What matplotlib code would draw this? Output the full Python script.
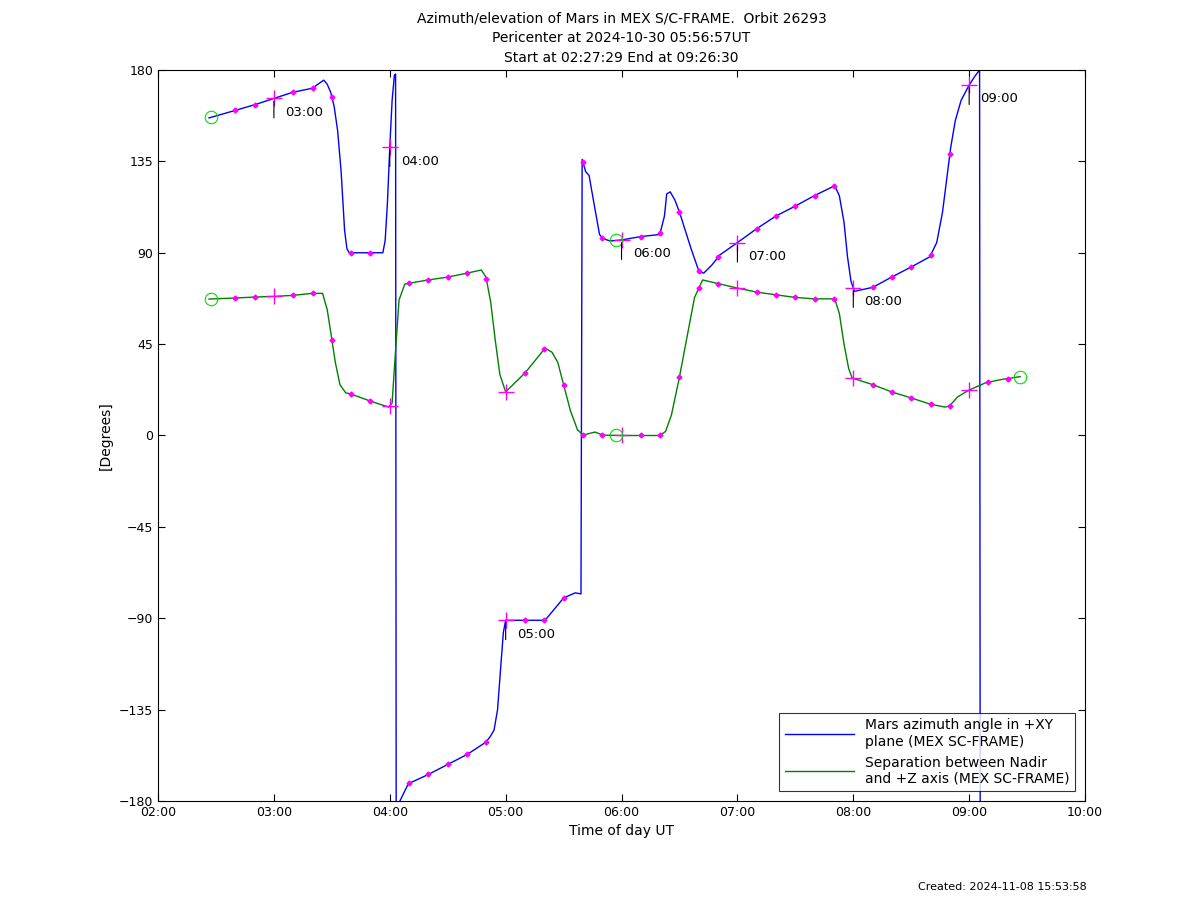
import numpy as np
import matplotlib.pyplot as plt

# azimuth curve (hours, degrees)
az_t = [2.44, 2.66, 2.84, 3.0, 3.16, 3.33, 3.43, 3.46, 3.49, 3.52, 3.55, 3.58, 3.61, 3.63, 3.65, 3.83,
        3.94, 3.96, 3.98, 4.0, 4.02, 4.04, 4.05,
        4.055, 4.07, 4.16, 4.33, 4.5, 4.67, 4.83, 4.87, 4.9, 4.93, 4.96, 4.98, 5.0, 5.17, 5.34, 5.5,
        5.6, 5.65, 5.66, 5.69, 5.72, 5.76, 5.81, 5.84, 5.9, 6.0, 6.17, 6.33, 6.37, 6.39, 6.42, 6.46,
        6.5, 6.6, 6.67, 6.71, 6.78, 6.85, 7.0, 7.17, 7.33, 7.5, 7.66, 7.84, 7.88, 7.92, 7.95,
        7.98, 8.01, 8.17, 8.33, 8.5, 8.66, 8.72, 8.77, 8.81, 8.84, 8.88, 8.93, 9.0, 9.05, 9.09,
        9.095, 9.2]
az_v = [156.4, 160, 163, 166, 169, 171, 175, 173, 169, 162, 150, 130, 101, 92, 90, 90,
        90, 96, 115, 142, 165, 177.5, 178,
        -180, -182, -171.5, -167, -162, -157, -151, -148, -145, -135, -112, -97, -91, -91, -91, -80,
        -77.5, -78, 136, 130, 128, 115, 99, 97, 95.8, 96.3, 98, 99, 108, 119, 120, 116,
        110, 92, 80.5, 80, 84, 89, 95, 102, 108, 113, 118, 123, 118, 105, 88,
        76, 71, 73, 78, 83, 88, 95, 110, 128, 141.6, 155, 165, 172.6, 177, 180,
        -182, -182]

# separation curve
sep_t = [2.44, 2.66, 2.84, 3.0, 3.16, 3.33, 3.42, 3.46, 3.49, 3.53, 3.57, 3.62, 3.66, 3.83, 3.99, 4.02,
         4.05, 4.08, 4.13, 4.33, 4.5, 4.67, 4.79, 4.83, 4.87, 4.91, 4.95, 5.0, 5.17, 5.34, 5.4, 5.45,
         5.5, 5.56, 5.62, 5.67, 5.77, 5.84, 6.0, 6.17, 6.33, 6.38, 6.43, 6.5, 6.57, 6.63, 6.7, 6.85,
         7.0, 7.17, 7.33, 7.5, 7.66, 7.84, 7.88, 7.92, 7.96, 7.99, 8.17, 8.33, 8.5, 8.66, 8.79,
         8.83, 8.9, 9.0, 9.14, 9.27, 9.44]
sep_v = [67.2, 67.7, 68.2, 68.5, 69, 70, 70, 62, 51, 36, 25, 21, 20.5, 17, 14, 16,
         42, 66.8, 74.6, 76.6, 78, 80, 81.5, 78, 66, 47, 30, 21.5, 31, 43, 41, 36,
         25, 12, 2.8, 0.2, 1.7, 0.2, 0, 0, 0, 2, 10, 28.8, 50, 68, 76.6, 74.6,
         72.6, 70.6, 69.3, 68, 67.3, 67.3, 60, 45, 33, 28.3, 25, 21.5, 18.5, 15.5, 14,
         14.5, 19, 22.4, 25.9, 27.5, 29]

hours = [3, 4, 5, 6, 7, 8, 9]
hour_labels = ['03:00', '04:00', '05:00', '06:00', '07:00', '08:00', '09:00']
t_start, t_end, t_peri = 2.458, 9.442, 5.949

fig = plt.figure(figsize=(12, 9.01), dpi=100)
ax = fig.add_axes([0.1317, 0.111, 0.7725, 0.8113])
ax.plot(az_t, az_v, color='blue', lw=1, label='Mars azimuth angle in +XY\nplane (MEX SC-FRAME)')
ax.plot(sep_t, sep_v, color='green', lw=1, label='Separation between Nadir\nand +Z axis (MEX SC-FRAME)')

# 10 minute markers
ten = np.arange(2 + 40 / 60, 9.34, 1 / 6)
ten = ten[np.abs(ten - np.round(ten)) > 0.01]
def az_at(t):
    return np.interp(t, az_t, az_v)
for t in ten:
    if not (abs(t - 4.05) < 0.05 or t > 9.1):
        ax.plot(t, az_at(t), 'D', color='magenta', ms=2.5)
    ax.plot(t, np.interp(t, sep_t, sep_v), 'D', color='magenta', ms=2.5)

# hour markers and labels
for h, lab in zip(hours, hour_labels):
    y = az_at(h)
    ax.plot(h, y, '+', color='magenta', ms=12, mew=1)
    ax.plot(h, np.interp(h, sep_t, sep_v), '+', color='magenta', ms=12, mew=1)
    ax.annotate('', xy=(h, y), xytext=(0, -16), textcoords='offset points',
                arrowprops=dict(arrowstyle='-', color='black', lw=0.8))
    ax.annotate(lab, xy=(h, y), xytext=(8, -10), textcoords='offset points',
                fontsize=9.5, va='center')

for t in (t_start, t_end, t_peri):
    for tt, vv in ((az_t, az_v), (sep_t, sep_v)):
        if t == t_end and tt is az_t:
            continue
        ax.plot(t, np.interp(t, tt, vv), 'o', mfc='none', mec='#00dd00', ms=9, mew=0.8)

ax.set_xlim(2, 10)
ax.set_ylim(-180, 180)
ax.set_xticks(range(2, 11))
ax.set_xticklabels(['%02d:00' % h for h in range(2, 11)])
ax.set_yticks(range(-180, 181, 45))
ax.tick_params(direction='in', top=True, right=True, labelsize=9, length=5)
ax.set_xlabel('Time of day UT', fontsize=10)
ax.set_ylabel('[Degrees]', fontsize=10)
ax.set_title('Azimuth/elevation of Mars in MEX S/C-FRAME.  Orbit 26293\n'
             'Pericenter at 2024-10-30 05:56:57UT\nStart at 02:27:29 End at 09:26:30',
             fontsize=10, linespacing=1.5)
leg = ax.legend(loc='lower right', fontsize=10, fancybox=False, edgecolor='black',
                handlelength=5, borderaxespad=0.7)
leg.get_frame().set_linewidth(0.8)
fig.text(0.765, 0.012, 'Created: 2024-11-08 15:53:58', fontsize=8)
fig.savefig('out.png')
